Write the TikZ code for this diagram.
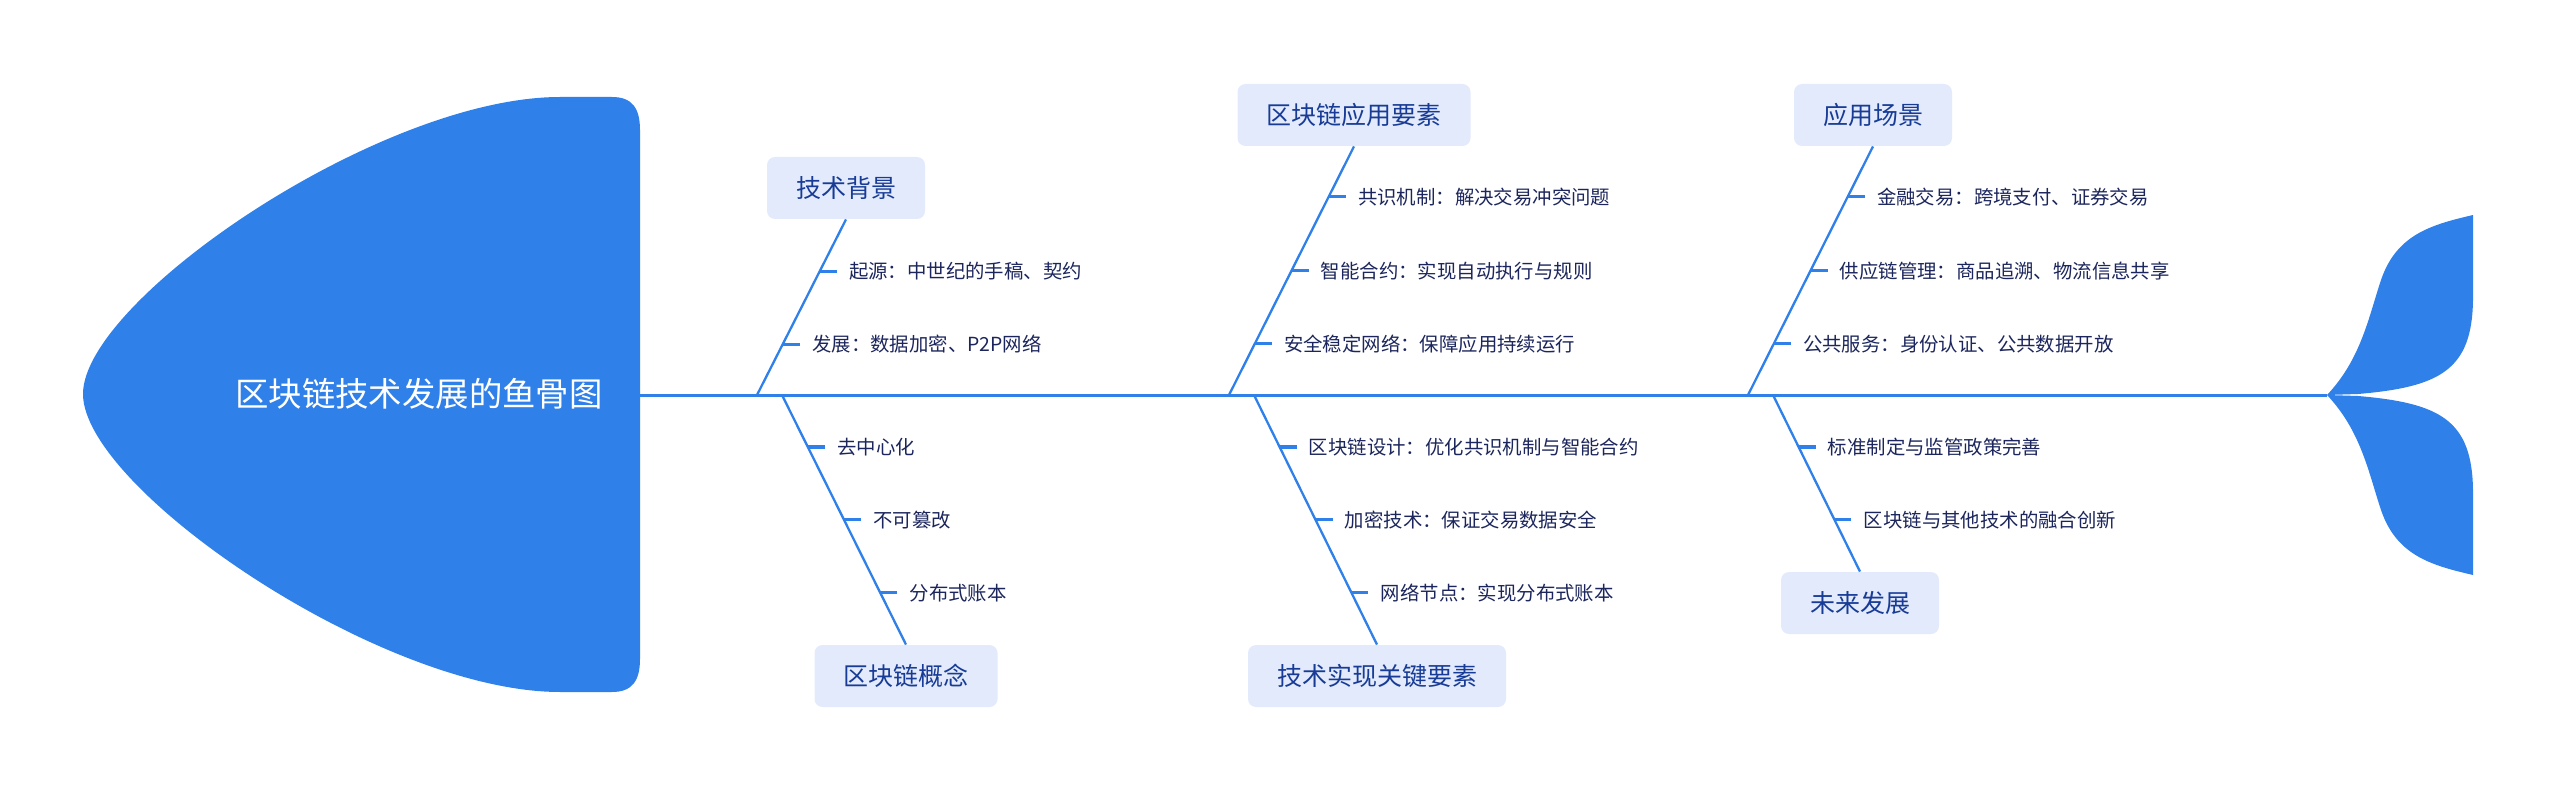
\documentclass[tikz,border=0pt]{standalone}
\usepackage{fontspec}
\setmainfont{Noto Sans CJK SC}
\usetikzlibrary{calc}
\definecolor{fishblue}{RGB}{47,128,233}
\definecolor{boxfill}{RGB}{226,234,252}
\definecolor{boxtext}{RGB}{24,60,150}
\definecolor{subtext}{RGB}{28,38,92}
\begin{document}
\begin{tikzpicture}[x=0.5pt,y=-0.5pt,
  cat/.style={fill=boxfill, rounded corners=4pt, minimum height=31pt, inner xsep=14.5pt, inner ysep=0pt, text=boxtext, font=\fontsize{12.5pt}{15pt}\selectfont},
  sub/.style={anchor=west, inner sep=0pt, text=subtext, font=\fontsize{9.7pt}{12pt}\selectfont},
  bone/.style={draw=fishblue, line width=1.15pt},
  tickline/.style={draw=fishblue, line width=1.6pt},
  spineline/.style={draw=fishblue, line width=1.5pt}]
\useasboundingbox (0,0) rectangle (2560,791);
% head
\fill[fishblue] (83,394) .. controls (83,300) and (380,97) .. (560,97) -- (612,97) .. controls (632,97) and (640,108) .. (640,130) -- (640,659) .. controls (640,681) and (632,692) .. (612,692) -- (560,692) .. controls (380,692) and (83,488) .. cycle;
\node[text=white, font=\fontsize{16.7pt}{20pt}\selectfont] (head) at (419,394) {区块链技术发展的鱼骨图};
% tail
\fill[fishblue] (2327,395) .. controls (2360,360) and (2368,320) .. (2380,283) .. controls (2395,235) and (2430,225) .. (2473,215) -- (2473,300) .. controls (2472,370) and (2440,387) .. (2358,394) -- cycle;
\fill[fishblue] (2327,395) .. controls (2360,430) and (2368,470) .. (2380,507) .. controls (2395,555) and (2430,565) .. (2473,575) -- (2473,490) .. controls (2472,420) and (2440,403) .. (2358,396) -- cycle;
% spine
\coordinate (headR) at (640,395);
\coordinate (tailJ) at (2327,395);
\draw[spineline] (headR) -- (tailJ);
% category boxes
\node[cat] (c1) at (846,188) {技术背景};
\node[cat] (c2) at (1354,115) {区块链应用要素};
\node[cat] (c3) at (1873,115) {应用场景};
\node[cat] (c4) at (906,676) {区块链概念};
\node[cat] (c5) at (1377,676) {技术实现关键要素};
\node[cat] (c6) at (1860,603) {未来发展};
% spine points
\coordinate (s1) at (757,395);
\coordinate (s2) at (1229,395);
\coordinate (s3) at (1748,395);
\coordinate (s4) at (782,395);
\coordinate (s5) at (1254,395);
\coordinate (s6) at (1773,395);
% bones
\draw[bone] (s1) -- (c1.south);
\draw[bone] (s2) -- (c2.south);
\draw[bone] (s3) -- (c3.south);
\draw[bone] (s4) -- (c4.north);
\draw[bone] (s5) -- (c5.north);
\draw[bone] (s6) -- (c6.north);
% bone 1
\coordinate (p11) at ($(s1)!0.7045!(c1.south)$);
\coordinate (p12) at ($(s1)!0.2898!(c1.south)$);
\node[sub] (t11) at ($(p11)+(29,0)$) {起源：中世纪的手稿、契约};
\node[sub] (t12) at ($(p12)+(29,0)$) {发展：数据加密、P2P网络};
\draw[tickline] (p11) -- ($(t11.west)+(-12,0)$);
\draw[tickline] (p12) -- ($(t12.west)+(-12,0)$);
% bone 2
\coordinate (p21) at ($(s2)!0.798!(c2.south)$);
\coordinate (p22) at ($(s2)!0.5!(c2.south)$);
\coordinate (p23) at ($(s2)!0.2056!(c2.south)$);
\node[sub] (t21) at ($(p21)+(29,0)$) {共识机制：解决交易冲突问题};
\node[sub] (t22) at ($(p22)+(29,0)$) {智能合约：实现自动执行与规则};
\node[sub] (t23) at ($(p23)+(29,0)$) {安全稳定网络：保障应用持续运行};
\draw[tickline] (p21) -- ($(t21.west)+(-12,0)$);
\draw[tickline] (p22) -- ($(t22.west)+(-12,0)$);
\draw[tickline] (p23) -- ($(t23.west)+(-12,0)$);
% bone 3
\coordinate (p31) at ($(s3)!0.798!(c3.south)$);
\coordinate (p32) at ($(s3)!0.5!(c3.south)$);
\coordinate (p33) at ($(s3)!0.2056!(c3.south)$);
\node[sub] (t31) at ($(p31)+(29,0)$) {金融交易：跨境支付、证券交易};
\node[sub] (t32) at ($(p32)+(29,0)$) {供应链管理：商品追溯、物流信息共享};
\node[sub] (t33) at ($(p33)+(29,0)$) {公共服务：身份认证、公共数据开放};
\draw[tickline] (p31) -- ($(t31.west)+(-12,0)$);
\draw[tickline] (p32) -- ($(t32.west)+(-12,0)$);
\draw[tickline] (p33) -- ($(t33.west)+(-12,0)$);
% bone 4
\coordinate (p41) at ($(s4)!0.208!(c4.north)$);
\coordinate (p42) at ($(s4)!0.5!(c4.north)$);
\coordinate (p43) at ($(s4)!0.792!(c4.north)$);
\node[sub] (t41) at ($(p41)+(29,0)$) {去中心化};
\node[sub] (t42) at ($(p42)+(29,0)$) {不可篡改};
\node[sub] (t43) at ($(p43)+(29,0)$) {分布式账本};
\draw[tickline] (p41) -- ($(t41.west)+(-12,0)$);
\draw[tickline] (p42) -- ($(t42.west)+(-12,0)$);
\draw[tickline] (p43) -- ($(t43.west)+(-12,0)$);
% bone 5
\coordinate (p51) at ($(s5)!0.208!(c5.north)$);
\coordinate (p52) at ($(s5)!0.5!(c5.north)$);
\coordinate (p53) at ($(s5)!0.792!(c5.north)$);
\node[sub] (t51) at ($(p51)+(29,0)$) {区块链设计：优化共识机制与智能合约};
\node[sub] (t52) at ($(p52)+(29,0)$) {加密技术：保证交易数据安全};
\node[sub] (t53) at ($(p53)+(29,0)$) {网络节点：实现分布式账本};
\draw[tickline] (p51) -- ($(t51.west)+(-12,0)$);
\draw[tickline] (p52) -- ($(t52.west)+(-12,0)$);
\draw[tickline] (p53) -- ($(t53.west)+(-12,0)$);
% bone 6
\coordinate (p61) at ($(s6)!0.294!(c6.north)$);
\coordinate (p62) at ($(s6)!0.706!(c6.north)$);
\node[sub] (t61) at ($(p61)+(29,0)$) {标准制定与监管政策完善};
\node[sub] (t62) at ($(p62)+(29,0)$) {区块链与其他技术的融合创新};
\draw[tickline] (p61) -- ($(t61.west)+(-12,0)$);
\draw[tickline] (p62) -- ($(t62.west)+(-12,0)$);
\end{tikzpicture}
\end{document}
